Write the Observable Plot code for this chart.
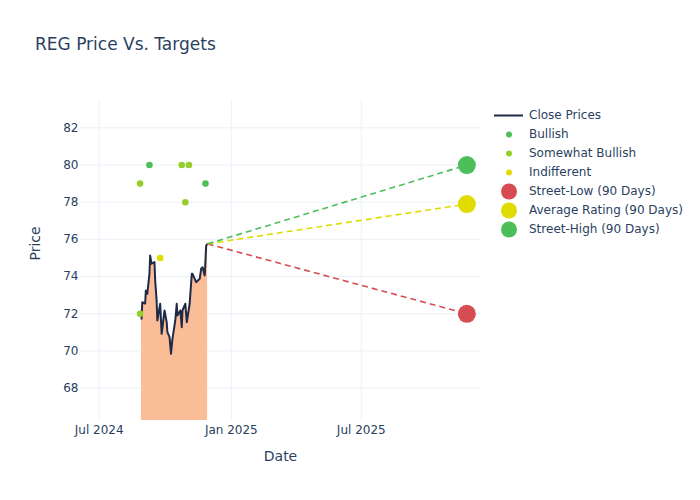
<!DOCTYPE html>
<html>
<head>
<meta charset="utf-8">
<script src="https://cdn.jsdelivr.net/npm/d3@7"></script>
<script src="https://cdn.jsdelivr.net/npm/@observablehq/plot@0.6"></script>
<style>
  body { margin: 0; background: #fff; font-family: "DejaVu Sans", sans-serif; }
  #wrap { position: relative; width: 700px; height: 500px; }
  #title { position: absolute; left: 35px; top: 34px; font-size: 17px; line-height: 20px; color: #2a3f5f; white-space: nowrap; }
  #legend { position: absolute; left: 0; top: 0; width: 700px; height: 500px; pointer-events: none; }
  .row { position: absolute; left: 490px; height: 19px; width: 210px; font-size: 12px; line-height: 19px; color: #2a3f5f; white-space: nowrap; }
  .row svg { position: absolute; left: 0; top: 0; }
  .row span { position: absolute; left: 39px; top: 0; }
</style>
</head>
<body>
<div id="wrap">
  <div id="chart"></div>
  <div id="title">REG Price Vs. Targets</div>
  <div id="legend"></div>
</div>
<script>
// ---- Data ----
const priceDates = ["2024-08-29","2024-08-30","2024-09-03","2024-09-04","2024-09-06","2024-09-09","2024-09-10","2024-09-12","2024-09-16","2024-09-17","2024-09-19","2024-09-20","2024-09-24","2024-09-26","2024-09-30","2024-10-03","2024-10-04","2024-10-07","2024-10-09","2024-10-11","2024-10-15","2024-10-17","2024-10-18","2024-10-22","2024-10-24","2024-10-25","2024-10-29","2024-10-31","2024-11-04","2024-11-05","2024-11-07","2024-11-08","2024-11-13","2024-11-18","2024-11-20","2024-11-22","2024-11-25","2024-11-27","2024-11-29"];
const priceValues = [71.73,72.62,72.55,73.25,73.07,74.15,75.13,74.69,74.78,73.79,72.72,71.64,72.54,70.92,72.18,71.55,71.01,70.74,69.85,70.65,71.64,72.54,71.91,72.18,71.28,72.18,72.54,71.55,72.54,73.08,74.15,74.15,73.70,73.88,74.42,74.50,74.06,75.67,75.76];

const ratingDates = ["2024-08-27","2024-08-27","2024-09-09","2024-09-24","2024-10-24","2024-10-29","2024-11-03","2024-11-26"];
const ratingValues = [79, 72, 80, 75, 80, 78, 80, 79];
const ratingTypes = ["Somewhat Bullish","Somewhat Bullish","Bullish","Indifferent","Somewhat Bullish","Somewhat Bullish","Somewhat Bullish","Bullish"];

const targetDate = "2025-11-25";
const targetLabels = ["Street-Low (90 Days)","Average Rating (90 Days)","Street-High (90 Days)"];
const targetValues = [72, 77.9, 80];

const xTickDates = ["2024-07-01","2025-01-01","2025-07-01"];
const yTicks = [68, 70, 72, 74, 76, 78, 80, 82];

const ratingColors = {"Bullish": "#4cbf5a", "Somewhat Bullish": "#94cf2a", "Indifferent": "#e0dc00"};
const targetColors = ["#d64c52", "#e0dc00", "#4cbf5a"];
const priceColor = "#1f2a47";
const fillColor = "#fabd98";
const gridColor = "#ebf0f8";
const yMin = 66.26, yMax = 83.47;

// ---- Tables ----
const prices = priceDates.map((d, i) => ({date: new Date(d), price: priceValues[i]}));
const ratings = ratingDates.map((d, i) => ({date: new Date(d), value: ratingValues[i], type: ratingTypes[i], color: ratingColors[ratingTypes[i]]}));
const last = prices[prices.length - 1];
const targets = targetLabels.map((l, i) => ({
  label: l, date: new Date(targetDate), value: targetValues[i], color: targetColors[i],
  x1: last.date, y1: last.price
}));

const chart = Plot.plot({
  width: 700,
  height: 500,
  marginLeft: 80,
  marginRight: 220,
  marginTop: 100,
  marginBottom: 80,
  style: {fontFamily: "DejaVu Sans, sans-serif", fontSize: "12px", color: "#2a3f5f", background: "white"},
  x: {type: "utc", domain: [new Date("2024-06-05"), new Date("2025-12-14")]},
  y: {domain: [yMin, yMax]},
  marks: [
    Plot.ruleY(yTicks, {stroke: gridColor, strokeWidth: 1}),
    Plot.ruleX(xTickDates.map(d => new Date(d)), {stroke: gridColor, strokeWidth: 1}),
    Plot.areaY(prices, {x: "date", y1: yMin, y2: "price", fill: fillColor, clip: true}),
    Plot.lineY(prices, {x: "date", y: "price", stroke: priceColor, strokeWidth: 2}),
    Plot.link(targets, {x1: "x1", y1: "y1", x2: "date", y2: "value", stroke: "color", strokeWidth: 1.6, strokeDasharray: "6,4"}),
    Plot.dot(ratings, {x: "date", y: "value", fill: "color", r: 3.3}),
    Plot.dot(targets, {x: "date", y: "value", fill: "color", r: 9}),
    Plot.axisX({ticks: xTickDates.map(d => new Date(d)), tickFormat: d3.utcFormat("%b %Y"), tickSize: 0, tickPadding: 5, label: null}),
    Plot.axisY({ticks: yTicks, tickSize: 0, tickPadding: 2, label: null}),
    Plot.text(["Price"], {text: d => d, frameAnchor: "left", dx: -45, rotate: -90, fontSize: 14, fill: "#2a3f5f"}),
    Plot.text(["Date"], {text: d => d, frameAnchor: "bottom", dy: 40, fontSize: 14, fill: "#2a3f5f"})
  ]
});
document.getElementById("chart").appendChild(chart);

// ---- Legend ----
const legendItems = [
  {label: "Close Prices", kind: "line", color: priceColor, cy: 115.5},
  {label: "Bullish", kind: "dot", r: 3, color: ratingColors["Bullish"], cy: 134.5},
  {label: "Somewhat Bullish", kind: "dot", r: 3, color: ratingColors["Somewhat Bullish"], cy: 153.5},
  {label: "Indifferent", kind: "dot", r: 3, color: ratingColors["Indifferent"], cy: 172.5},
  {label: targetLabels[0], kind: "dot", r: 8, color: targetColors[0], cy: 191},
  {label: targetLabels[1], kind: "dot", r: 8, color: targetColors[1], cy: 210},
  {label: targetLabels[2], kind: "dot", r: 8, color: targetColors[2], cy: 229}
];
const legend = document.getElementById("legend");
for (const it of legendItems) {
  const row = document.createElement("div");
  row.className = "row";
  row.style.top = (it.cy - 9.5) + "px";
  const sym = it.kind === "line"
    ? `<line x1="4" x2="33" y1="9.5" y2="9.5" stroke="${it.color}" stroke-width="2"/>`
    : `<circle cx="19" cy="9.5" r="${it.r}" fill="${it.color}"/>`;
  row.innerHTML = `<svg width="38" height="19">${sym}</svg><span>${it.label}</span>`;
  legend.appendChild(row);
}
</script>
</body>
</html>
